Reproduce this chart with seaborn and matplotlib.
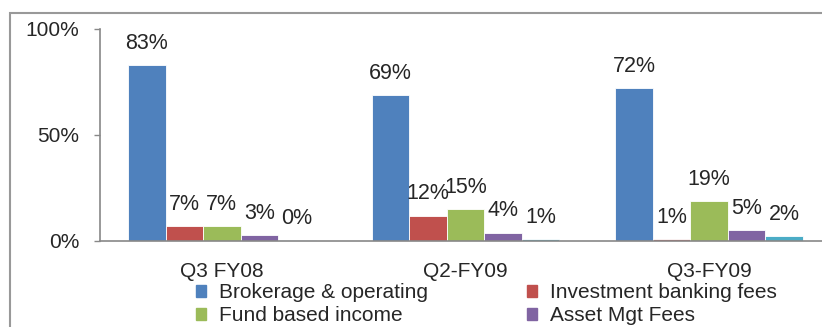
import matplotlib
matplotlib.use("Agg")
import matplotlib.pyplot as plt
from matplotlib.patches import Rectangle
from matplotlib.ticker import FixedLocator
import numpy as np
import pandas as pd
import seaborn as sns


# -------------------------------------------------------------------------------------------
# Data

quarters = ["Q3 FY08", "Q2-FY09", "Q3-FY09"]
series = ["Brokerage & operating", "Investment banking fees", "Fund based income",
          "Asset Mgt Fees", "Others"]

brokerage = [83, 69, 72]
inv_banking = [7, 12, 0.9]
fund_based = [7, 15, 19]
asset_mgt = [3, 4, 5.2]
others = [0.4, 0.8, 2.4]

colors = ["#4F81BD", "#C0504D", "#9BBB59", "#8064A2", "#4BACC6"]

rows = []
for name, vals in zip(series, [brokerage, inv_banking, fund_based, asset_mgt, others]):
    for q, v in zip(quarters, vals):
        rows.append({"Quarter": q, "Series": name, "Share": v})
df = pd.DataFrame(rows)


# -------------------------------------------------------------------------------------------
# Plot

sns.set_style("white")
plt.rcParams["font.family"] = ["Liberation Sans", "DejaVu Sans"]

fig = plt.figure(figsize=(8.22, 3.27), dpi=100)
ax = fig.add_axes([100 / 822, 86 / 327, 731 / 822, 212 / 327])

sns.barplot(data=df, x="Quarter", y="Share", hue="Series", order=quarters,
            hue_order=series, palette=colors, saturation=1, width=0.77, gap=0,
            linewidth=0.6, edgecolor="white", ax=ax, legend=False)

ax.set_ylim(0, 100)
ax.set_xlim(-0.5, 2.5)
ax.set_yticks([0, 50, 100])
ax.set_yticklabels(["0%", "50%", "100%"], fontsize=15)
ax.set_xlabel("")
ax.set_ylabel("")

ax.set_xticks(range(len(quarters)))
ax.set_xticklabels(quarters, fontsize=15)
ax.tick_params(axis="x", which="major", length=0, pad=15)
ax.xaxis.set_minor_locator(FixedLocator([-0.5, 0.5, 1.5]))
ax.tick_params(axis="x", which="minor", length=6, color="#888888", width=1)
ax.tick_params(axis="y", length=4, color="#888888", width=1, left=True, pad=11)

for side in ["top", "right"]:
    ax.spines[side].set_visible(False)
for side in ["left", "bottom"]:
    ax.spines[side].set_color("#888888")
    ax.spines[side].set_linewidth(1.2)

# data labels
for cont in ax.containers:
    labels = [f"{v:.0f}%" for v in cont.datavalues]
    ax.bar_label(cont, labels=labels, padding=8, fontsize=15.5)

# legend (only the first four entries fit in the picture)
handles = [Rectangle((0, 0), 1, 1, color=c) for c in colors]
order = [0, 2, 1, 3]
fig.legend([handles[i] for i in order], [series[i] for i in order],
           ncol=2, loc="upper left", bbox_to_anchor=(196 / 822, 1 - 283 / 327),
           frameon=False, fontsize=15, handlelength=0.5, handleheight=0.5,
           handletextpad=0.6, labelspacing=0.2, columnspacing=4.75,
           borderpad=0, borderaxespad=0)

# chart border (left and top edges visible)
fig.patches.append(Rectangle((10 / 822, -0.2), 1.2, 1.2 - 13 / 327,
                             transform=fig.transFigure, fill=False,
                             edgecolor="#999999", linewidth=1.5))

fig.savefig("out.png", dpi=100)
